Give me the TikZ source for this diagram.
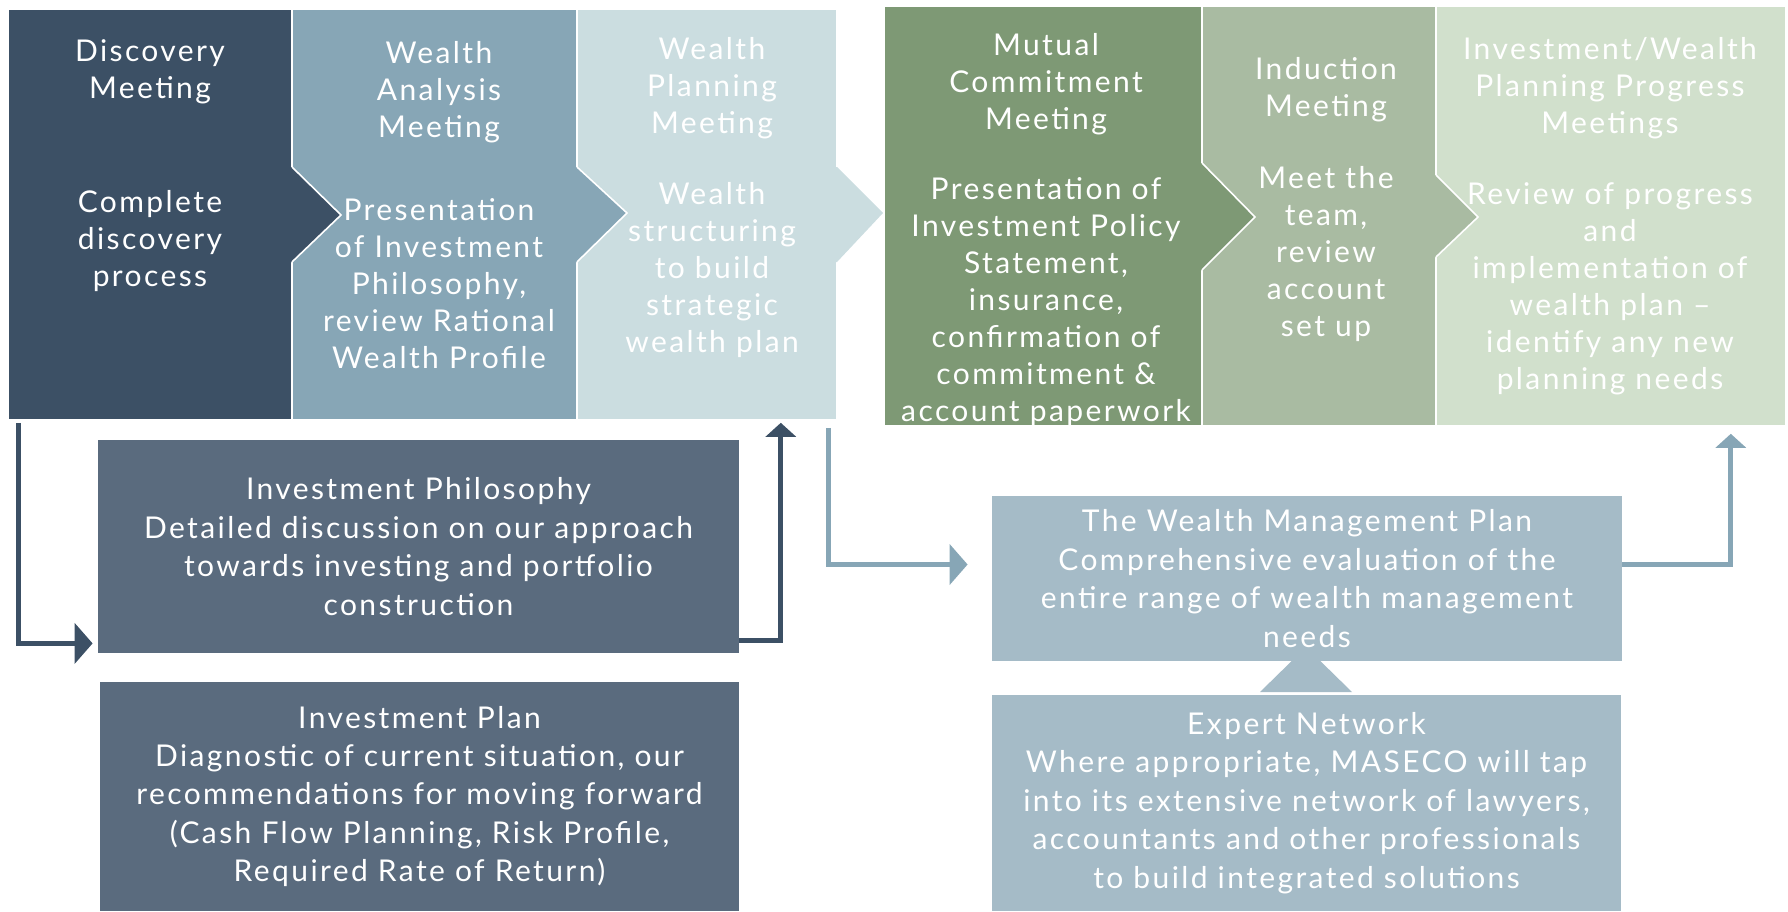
\documentclass[tikz,border=0pt]{standalone}
\usepackage{fontspec}
\setmainfont[LetterSpace=8]{Lato}
\usetikzlibrary{arrows.meta}
\definecolor{discblue}{HTML}{3C5065}
\definecolor{analblue}{HTML}{87A6B6}
\definecolor{planblue}{HTML}{CBDDE0}
\definecolor{mutgreen}{HTML}{7E9975}
\definecolor{indgreen}{HTML}{A9BBA2}
\definecolor{proggreen}{HTML}{D1E0CC}
\definecolor{slate}{HTML}{5A6B7E}
\definecolor{mist}{HTML}{A5BBC7}

\begin{document}
\begin{tikzpicture}[x=0.5pt, y=-0.5pt,
    stage/.style={rectangle, draw=white, line width=0.8pt, inner sep=0pt},
    txt/.style={text=white, align=center, inner sep=0pt, font=\fontsize{15}{18.5}\selectfont},
    panel/.style={rectangle, inner sep=0pt, text=white, align=center, font=\fontsize{15}{19.2}\selectfont},
    darr/.style={draw=discblue, line width=2.5pt},
    larr/.style={draw=analblue, line width=2.5pt},
    bigtip/.style={-{Triangle[length=9pt,width=20pt]}},
    smalltip/.style={-{Triangle[length=7pt,width=15pt]}}]
    \useasboundingbox (0,0) rectangle (1788,911);

    % First group of meetings
    \node[stage, fill=discblue, minimum width=142pt, minimum height=205.5pt] (disc) at (150,214.5) {};
    \node[stage, fill=analblue, minimum width=142.5pt, minimum height=205.5pt] (anal) at (434.5,214.5) {};
    \fill[discblue] (289,167) -- (292,167) -- (341,215) -- (292,262) -- (289,262) -- cycle;
    \draw[white, line width=0.8pt] (292,167) -- (341,215) -- (292,262);
    \node[stage, fill=planblue, minimum width=130pt, minimum height=205.5pt] (plan) at (707,214.5) {};
    \fill[analblue] (574,167) -- (577,167) -- (627,213) -- (577,262) -- (574,262) -- cycle;
    \draw[white, line width=0.8pt] (577,167) -- (627,213) -- (577,262);
    \fill[planblue] (834,167) -- (837,167) -- (883,213) -- (837,262) -- (834,262) -- cycle;

    % Second group of meetings
    \node[stage, fill=mutgreen, minimum width=159pt, minimum height=210pt] (mutc) at (1043,216) {};
    \node[stage, fill=indgreen, minimum width=117pt, minimum height=210pt] (indc) at (1319,216) {};
    \fill[mutgreen] (1199,163) -- (1202,163) -- (1255,217) -- (1202,270) -- (1199,270) -- cycle;
    \draw[white, line width=0.8pt] (1202,163) -- (1255,217) -- (1202,270);
    \node[stage, fill=proggreen, minimum width=175pt, minimum height=210pt] (prog) at (1611,216) {};
    \fill[indgreen] (1433,175) -- (1436,175) -- (1478,217) -- (1436,257) -- (1433,257) -- cycle;
    \draw[white, line width=0.8pt] (1436,175) -- (1478,217) -- (1436,257);

    % Meeting texts
    \node[txt] (discT) at (150,72) {Discovery\\Meeting};
    \node[txt] (discD) at (150,241) {Complete\\discovery\\process};
    \node[txt] (analT) at (439,92) {Wealth\\Analysis\\Meeting};
    \node[txt] (analD) at (439,284) {Presentation\\of Investment\\Philosophy,\\review Rational\\Wealth Profile};
    \node[txt] (planT) at (712,88) {Wealth\\Planning\\Meeting};
    \node[txt] (planD) at (712,270) {Wealth\\structuring\\to build\\strategic\\wealth plan};
    \node[txt] (mutcT) at (1046,84) {Mutual\\Commitment\\Meeting};
    \node[txt] (mutcD) at (1046,302) {Presentation of\\Investment Policy\\Statement,\\insurance,\\confirmation of\\commitment \&\\account paperwork};
    \node[txt] (indcT) at (1326,90) {Induction\\Meeting};
    \node[txt] (indcD) at (1326,254) {Meet the\\team,\\review\\account\\set up};
    \node[txt] (progT) at (1610,88) {Investment/Wealth\\Planning Progress\\Meetings};
    \node[txt] (progD) at (1610,289) {Review of progress\\and\\implementation of\\wealth plan --\\identify any new\\planning needs};

    % Lower panels
    \fill[mist] (1306,647) -- (1352,692) -- (1260,692) -- cycle;
    \node[panel, fill=slate, minimum width=320.5pt, minimum height=106.5pt] (phil) at (418.5,546.5)
        {Investment Philosophy\\Detailed discussion on our approach\\towards investing and portfolio\\construction};
    \node[panel, fill=slate, minimum width=319.5pt, minimum height=114.5pt] (iplan) at (419.5,796.5)
        {Investment Plan\\Diagnostic of current situation, our\\recommendations for moving forward\\(Cash Flow Planning, Risk Profile,\\Required Rate of Return)};
    \node[panel, fill=mist, minimum width=315pt, minimum height=82.5pt] (wmp) at (1307,578.5)
        {The Wealth Management Plan\\Comprehensive evaluation of the\\entire range of wealth management\\needs};
    \node[panel, fill=mist, minimum width=314.5pt, minimum height=108pt] (expn) at (1306.5,803)
        {Expert Network\\Where appropriate, MASECO will tap\\into its extensive network of lawyers,\\accountants and other professionals\\to build integrated solutions};

    % Connectors
    \draw[darr, bigtip, shorten >=2.5pt] ([xshift=5.5pt, yshift=-1pt]disc.south west) |- ([yshift=5pt]phil.south west);
    \draw[darr, smalltip] ([yshift=6.5pt]phil.south east) -| ([xshift=-28.5pt, yshift=-1pt]plan.south east);
    \draw[larr, bigtip, shorten >=12pt] ([xshift=-4.5pt, yshift=-3.5pt]plan.south east) |- ([yshift=7pt]wmp.west);
    \draw[larr, smalltip] ([yshift=7pt]wmp.east) -| ([xshift=-28pt, yshift=-3.5pt]prog.south east);
\end{tikzpicture}
\end{document}
